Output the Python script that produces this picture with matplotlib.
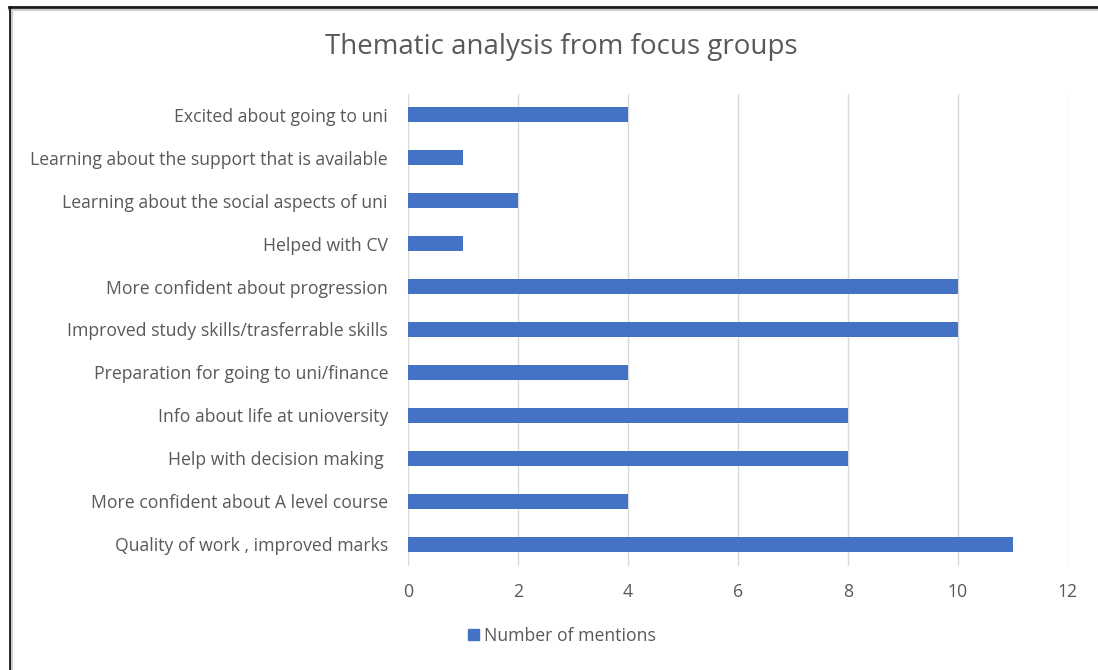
import matplotlib
matplotlib.use("Agg")
import matplotlib.pyplot as plt
from matplotlib.lines import Line2D
from matplotlib.patches import Patch

categories = [
    "Excited about going to uni",
    "Learning about the support that is available",
    "Learning about the social aspects of uni",
    "Helped with CV",
    "More confident about progression",
    "Improved study skills/trasferrable skills",
    "Preparation for going to uni/finance",
    "Info about life at unioversity",
    "Help with decision making ",
    "More confident about A level course",
    "Quality of work , improved marks",
]
values = [4, 1, 2, 1, 10, 10, 4, 8, 8, 4, 11]
xticks = [0, 2, 4, 6, 8, 10, 12]
title = "Thematic analysis from focus groups"
series_name = "Number of mentions"

plt.rcParams['font.family'] = ['Open Sans', 'DejaVu Sans']
W, H = 1098, 670
fig = plt.figure(figsize=(W / 100, H / 100), dpi=100)
ax = fig.add_axes([408 / W, 1 - 565.5 / H, (1068 - 408) / W, (565.5 - 93.5) / H])

txt = "#595959"
pos = list(range(len(categories)))[::-1]
ax.barh(pos, values, height=0.35, color="#4472C4", zorder=3)
ax.set_xlim(0, 12)
ax.set_ylim(-0.5, len(categories) - 0.5)
ax.set_xticks(xticks)
ax.set_yticks(pos)
ax.set_yticklabels(categories)
ax.tick_params(axis='both', length=0, colors=txt, labelsize=12.7)
ax.tick_params(axis='y', pad=14.4)
ax.tick_params(axis='x', pad=12.5)
for s in ax.spines.values():
    s.set_visible(False)
ax.grid(axis='x', color="#D9D9D9", linewidth=1, zorder=0)

fig.text(561 / W, 1 - 47 / H, title, ha='center', va='center', fontsize=20, color=txt)

leg = fig.legend(handles=[Patch(color="#4472C4", label=series_name)], loc='center',
                 bbox_to_anchor=(562 / W, 1 - 636 / H), frameon=False, fontsize=12.7,
                 handlelength=0.6, handleheight=0.6, handletextpad=0.3)
for t in leg.get_texts():
    t.set_color(txt)

# figure frame (top and left edges)
fig.add_artist(Line2D([9 / W, 1], [1 - 7 / H, 1 - 7 / H], color="#1a1a1a", lw=2, transform=fig.transFigure))
fig.add_artist(Line2D([9 / W, 1], [1 - 9.5 / H, 1 - 9.5 / H], color="#c8cdd2", lw=1.5, transform=fig.transFigure))
fig.add_artist(Line2D([9.5 / W, 9.5 / W], [0, 1 - 7 / H], color="#1a1a1a", lw=2, transform=fig.transFigure))
fig.add_artist(Line2D([12 / W, 12 / W], [0, 1 - 9.5 / H], color="#c8cdd2", lw=1.5, transform=fig.transFigure))

fig.savefig("out.png", dpi=100)
